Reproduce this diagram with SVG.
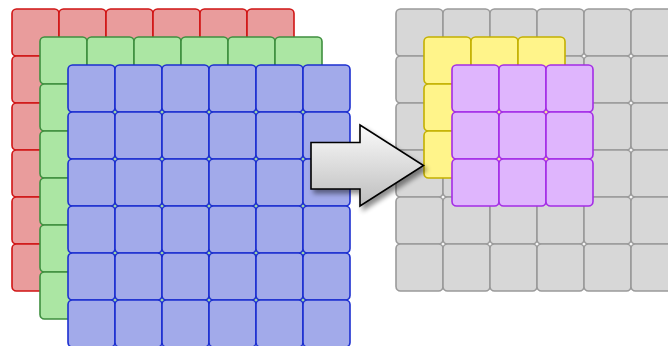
<svg xmlns="http://www.w3.org/2000/svg" xmlns:xlink="http://www.w3.org/1999/xlink" width="668" height="346" viewBox="0 0 668 346">
  <style>
    .cell { stroke-width: 1.6; }
    .red { fill: #e99c9c; stroke: #d01515; }
    .green { fill: #abe6a3; stroke: #3f8f3f; }
    .blue { fill: #a2aaea; stroke: #1c2fd0; }
    .gray { fill: #d7d7d7; stroke: #9a9a9a; }
    .yellow { fill: #fff48a; stroke: #c4b000; }
    .purple { fill: #dfb5fd; stroke: #a42ce6; }
    .arrow { fill: url(#arrowFill); stroke: #000; stroke-width: 1.6; stroke-linejoin: miter; }
  </style>
  <defs>
    <rect id="cell" class="cell" width="47" height="47" rx="4.5"/>
    <g id="row6">
      <use xlink:href="#cell" x="0"/>
      <use xlink:href="#cell" x="47"/>
      <use xlink:href="#cell" x="94"/>
      <use xlink:href="#cell" x="141"/>
      <use xlink:href="#cell" x="188"/>
      <use xlink:href="#cell" x="235"/>
    </g>
    <g id="grid6">
      <use xlink:href="#row6" y="0"/>
      <use xlink:href="#row6" y="47"/>
      <use xlink:href="#row6" y="94"/>
      <use xlink:href="#row6" y="141"/>
      <use xlink:href="#row6" y="188"/>
      <use xlink:href="#row6" y="235"/>
    </g>
    <g id="row3">
      <use xlink:href="#cell" x="0"/>
      <use xlink:href="#cell" x="47"/>
      <use xlink:href="#cell" x="94"/>
    </g>
    <g id="grid3">
      <use xlink:href="#row3" y="0"/>
      <use xlink:href="#row3" y="47"/>
      <use xlink:href="#row3" y="94"/>
    </g>
    <linearGradient id="arrowFill" x1="0" y1="0" x2="0" y2="1">
      <stop offset="0" stop-color="#fbfbfb"/>
      <stop offset="1" stop-color="#bdbdbd"/>
    </linearGradient>
    <filter id="shadow" x="-20%" y="-20%" width="150%" height="150%">
      <feGaussianBlur in="SourceAlpha" stdDeviation="2.5"/>
      <feOffset dx="3" dy="4" result="blur"/>
      <feComponentTransfer><feFuncA type="linear" slope="0.45"/></feComponentTransfer>
      <feMerge><feMergeNode/><feMergeNode in="SourceGraphic"/></feMerge>
    </filter>
  </defs>

  <!-- input volume: three stacked 6x6 channels -->
  <g id="channel-red"><use xlink:href="#grid6" x="12" y="9" class="red"/></g>
  <g id="channel-green"><use xlink:href="#grid6" x="40" y="37" class="green"/></g>
  <g id="channel-blue"><use xlink:href="#grid6" x="68" y="65" class="blue"/></g>

  <!-- output map with two stacked 3x3 windows -->
  <g id="output-gray"><use xlink:href="#grid6" x="396" y="9" class="gray"/></g>
  <g id="window-yellow"><use xlink:href="#grid3" x="424" y="37" class="yellow"/></g>
  <g id="window-purple"><use xlink:href="#grid3" x="452" y="65" class="purple"/></g>

  <!-- block arrow -->
  <g id="connectors">
    <path class="arrow" filter="url(#shadow)" d="M311,142.5 L360,142.5 L360,125 L423.5,165.5 L360,206 L360,189 L311,189 Z"/>
  </g>
</svg>
